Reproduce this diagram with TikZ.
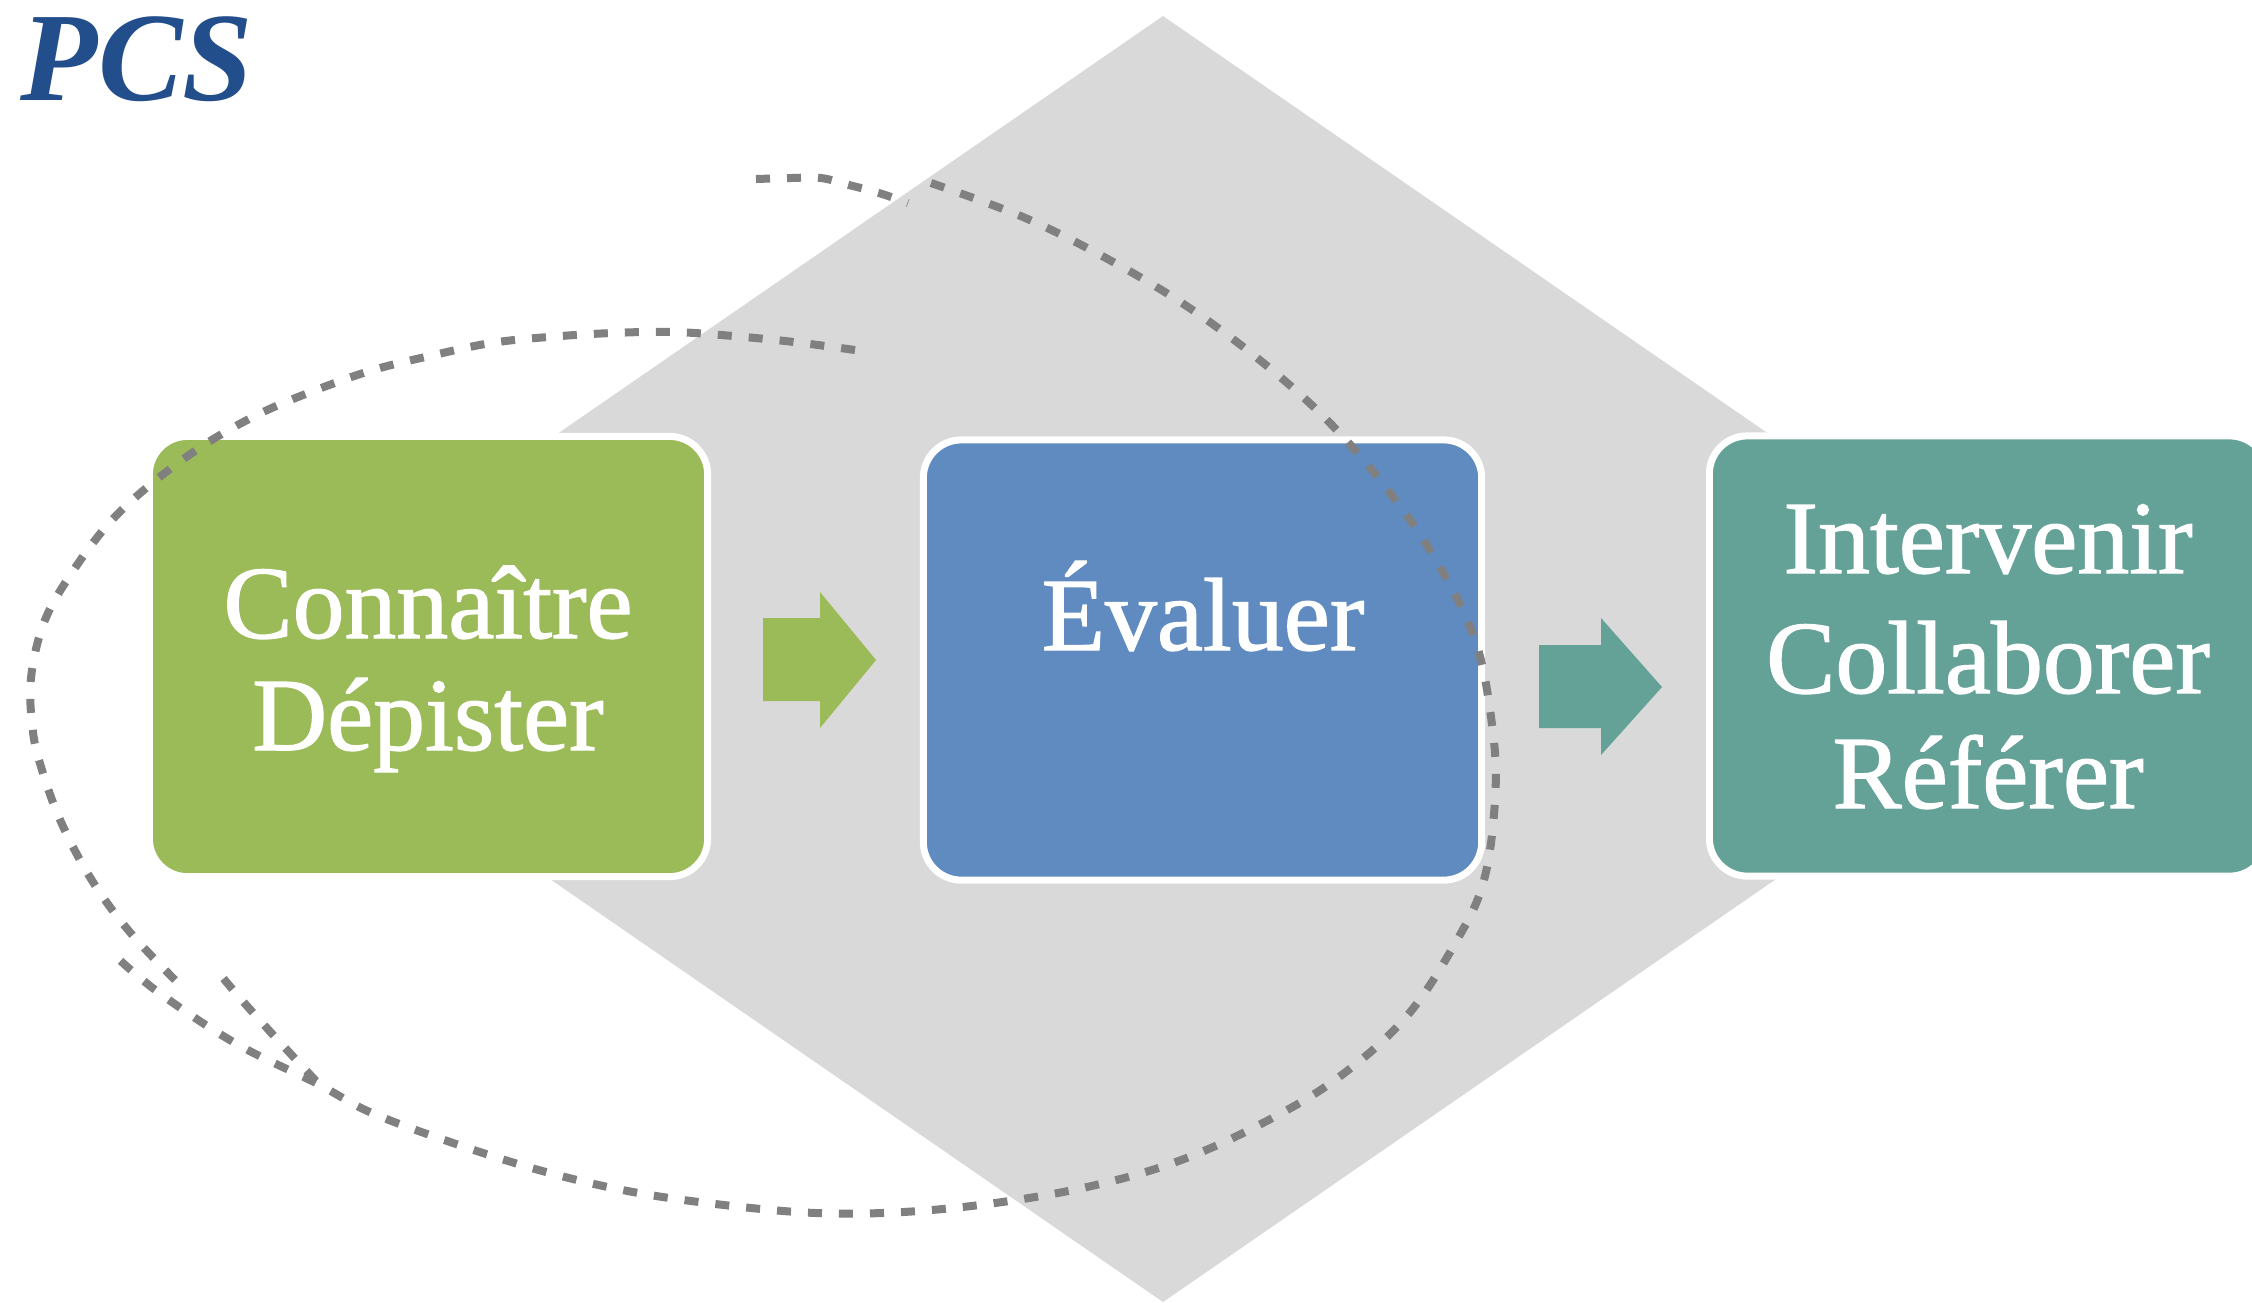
\documentclass[tikz,border=0pt]{standalone}
\usepackage{fontspec}
\setmainfont{Liberation Serif}
\newfontfamily\boxfont{Liberation Serif}[FakeBold=1.2]
\definecolor{boxgreen}{RGB}{155,187,89}
\definecolor{boxblue}{RGB}{95,139,193}
\definecolor{boxteal}{RGB}{100,162,151}
\definecolor{diagray}{RGB}{217,217,217}
\definecolor{dotgray}{RGB}{128,128,128}
\definecolor{pcsblue}{RGB}{34,78,139}
\tikzset{
  stagebox/.style={rectangle, rounded corners=0.38cm, draw=white, line width=0.07cm,
    minimum width=5.58cm, minimum height=4.40cm, inner sep=0pt},
  boxtext/.style={text=white, inner sep=0pt, anchor=base,
    font=\boxfont\fontsize{29.5pt}{33pt}\selectfont},
  dotline/.style={draw=dotgray, line width=0.08cm, dash pattern=on 0.14cm off 0.17cm},
}
\begin{document}
\begin{tikzpicture}[x=0.01cm,y=-0.01cm]
\useasboundingbox (0,0) rectangle (2252,1302);
% background diamond
\fill[diagray] (1163,16) -- (2095,659) -- (1163,1302) -- (231,659) -- cycle;
% title
\node[anchor=base west, inner sep=0pt, text=pcsblue,
  font=\fontsize{36pt}{40pt}\selectfont\bfseries\itshape] (title) at (20,100) {PCS};
% boxes
\node[stagebox, fill=boxgreen] (b1) at (428.5,656.5) {};
\node[stagebox, fill=boxblue]  (b2) at (1202.5,660) {};
\node[stagebox, fill=boxteal]  (b3) at (1988.5,656) {};
% block arrows
\fill[boxgreen] (763,618) -- (820,618) -- (820,592) -- (876,660) -- (820,728) -- (820,701) -- (763,701) -- cycle;
\fill[boxteal] (1539,645) -- (1601,645) -- (1601,618) -- (1662,687) -- (1601,755) -- (1601,728) -- (1539,728) -- cycle;
% texts
\node[boxtext] (t1a) at (428,638) {Connaître};
\node[boxtext] (t1b) at (428,750) {Dépister};
\node[boxtext] (t2)  at (1203,650) {Évaluer};
\node[boxtext] (t3a) at (1988,573) {Intervenir};
\node[boxtext] (t3b) at (1988,693) {Collaborer};
\node[boxtext] (t3c) at (1988,808) {Référer};
% dotted strokes
\draw[dotline] plot[smooth, tension=0.6] coordinates {(756,179) (791,178) (821,178) (849,185) (879,193) (908,203)};
\draw[dotline] plot[smooth, tension=0.6] coordinates {(931,183) (1023,217) (1104,257) (1182,303) (1256,357) (1324,417) (1384,485) (1436,560) (1476,643) (1493,733) (1495,800) (1484,880) (1457,940) (1406,1017) (1335,1080) (1255,1127) (1173,1163) (1087,1187) (995,1203) (903,1212) (816,1213) (724,1205) (633,1192) (546,1172) (459,1145) (372,1113) (316,1083) (235,1043) (158,992) (112,953)};
\draw[dotline] plot[smooth, tension=0.6] coordinates {(316,1081) (276,1038) (240,998) (214,967)};
\draw[dotline] plot[smooth, tension=0.6] coordinates {(855,350) (794,342) (733,336) (673,332) (612,333) (548,337) (491,343) (434,355) (373,370) (316,390) (261,413) (207,443) (156,480) (112,520) (75,568) (45,620) (31,678) (33,732) (42,770) (58,815) (80,860) (105,900) (135,938) (175,980)};
\end{tikzpicture}
\end{document}
